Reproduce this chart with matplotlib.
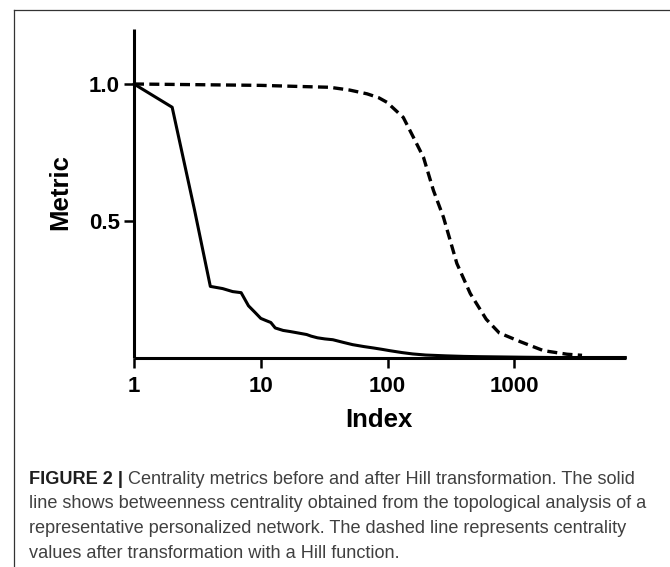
import matplotlib
matplotlib.use('Agg')
import matplotlib.pyplot as plt
from matplotlib.lines import Line2D

# ---- data ----
solid_index = [1, 2, 3, 4, 5, 6, 7, 8, 9, 10, 11, 12, 13, 15, 17, 19, 23, 25, 28,
               32, 37, 45, 53, 65, 77, 90, 104, 130, 158, 200, 290, 400, 530, 800,
               1200, 2000, 7500]
solid_metric = [1.0, 0.915, 0.54, 0.26, 0.252, 0.241, 0.237, 0.189, 0.165, 0.143,
                0.135, 0.128, 0.108, 0.099, 0.095, 0.091, 0.084, 0.078, 0.072,
                0.068, 0.065, 0.055, 0.047, 0.040, 0.035, 0.030, 0.025, 0.018,
                0.013, 0.009, 0.006, 0.004, 0.003, 0.002, 0.001, 0.0, 0.0]

hill_index = [1, 10, 20, 35, 50, 69, 85, 99, 133, 160, 192, 230, 276, 352, 449,
              600, 760, 1113, 1700, 2600, 3420]
hill_metric = [1.0, 0.995, 0.991, 0.988, 0.978, 0.964, 0.95, 0.933, 0.878, 0.805,
               0.732, 0.611, 0.513, 0.344, 0.234, 0.14, 0.09, 0.058, 0.025, 0.012,
               0.008]

x_ticks = [1, 10, 100, 1000]
x_tick_labels = ['1', '10', '100', '1000']
y_ticks = [0.5, 1.0]
y_tick_labels = ['0.5', '1.0']
x_label = 'Index'
y_label = 'Metric'

caption_bold = 'FIGURE 2 |'
caption_lines = [
    ' Centrality metrics before and after Hill transformation. The solid',
    'line shows betweenness centrality obtained from the topological analysis of a',
    'representative personalized network. The dashed line represents centrality',
    'values after transformation with a Hill function.',
]

# ---- layout ----
W, H = 670, 567
fig = plt.figure(figsize=(W / 100, H / 100), dpi=100)
fig.patch.set_facecolor('white')


def fx(px):
    return px / W


def fy(py):
    return 1 - py / H


FONT = ['Liberation Sans', 'DejaVu Sans']

ax = fig.add_axes([fx(134), fy(357.5), fx(626) - fx(134), fy(29.3) - fy(357.5)])
ax.plot(solid_index, solid_metric, color='black', lw=2.2, solid_joinstyle='round',
        clip_on=False, zorder=3)
ax.plot(hill_index, hill_metric, color='black', lw=2.4, linestyle=(0, (3.0, 1.6)),
        dash_capstyle='butt', clip_on=False, zorder=3)

ax.set_xscale('log')
ax.set_xlim(1, 7600)
ax.set_ylim(0, 1.2)
ax.set_xticks(x_ticks)
ax.set_xticklabels(x_tick_labels)
ax.set_yticks(y_ticks)
ax.set_yticklabels(y_tick_labels)
ax.xaxis.set_minor_locator(matplotlib.ticker.NullLocator())

for s in ['top', 'right']:
    ax.spines[s].set_visible(False)
for s in ['left', 'bottom']:
    ax.spines[s].set_linewidth(2.2)
    ax.spines[s].set_capstyle('butt')

ax.tick_params(axis='both', direction='out', length=7, width=1.8, color='black')
ax.tick_params(axis='x', pad=6)
ax.tick_params(axis='y', pad=3)
for lab in ax.get_xticklabels() + ax.get_yticklabels():
    lab.set_fontfamily(FONT)
    lab.set_fontweight('bold')
    lab.set_fontsize(16)
ax.set_facecolor('white')

fig.text(fx(379), fy(427.3), x_label, ha='center', va='baseline',
         fontsize=18.5, fontweight='bold', family=FONT)
fig.text(fx(60), fy(192), y_label, ha='center', va='center', rotation=90,
         fontsize=18.5, fontweight='bold', family=FONT)

# ---- frame lines ----
fig.add_artist(Line2D([fx(13.5), fx(13.5)], [0, fy(10)], transform=fig.transFigure,
                      color='#333333', lw=0.9))
fig.add_artist(Line2D([fx(13.5), 1], [fy(10), fy(10)], transform=fig.transFigure,
                      color='#333333', lw=0.9))

# ---- caption ----
r = fig.canvas.get_renderer()
probe = fig.text(0, 0, caption_lines[1], fontsize=13, family=FONT)
w = probe.get_window_extent(renderer=r).width
probe.remove()
cap_size = 13 * (646 - 29.3) / w

baselines = [484, 508.5, 533, 557.5]
tb = fig.text(fx(29.3), fy(baselines[0]), caption_bold, fontsize=cap_size,
              fontweight='bold', family=FONT, color='#1e1e1e', va='baseline')
bb = tb.get_window_extent(renderer=r)
fig.text(bb.x1 / W, fy(baselines[0]), caption_lines[0], fontsize=cap_size,
         family=FONT, color='#404040', va='baseline')
for line, b in zip(caption_lines[1:], baselines[1:]):
    fig.text(fx(29.3), fy(b), line, fontsize=cap_size, family=FONT,
             color='#404040', va='baseline')

fig.savefig('out.png', dpi=100, facecolor='white')
